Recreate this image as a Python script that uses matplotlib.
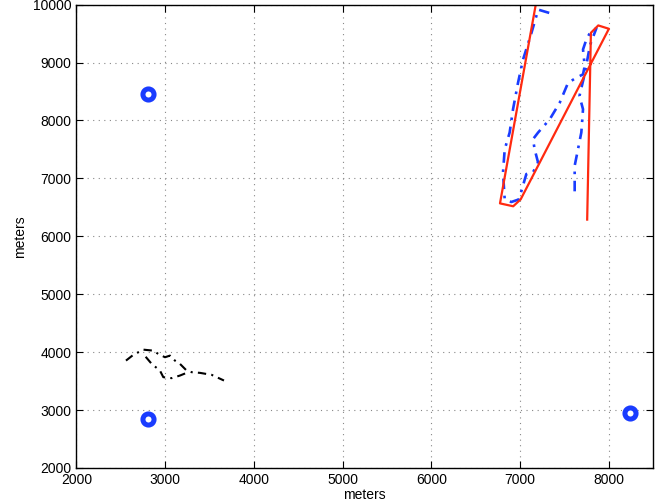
import matplotlib
matplotlib.use("Agg")
import matplotlib.pyplot as plt

plt.rcParams['font.family'] = ['Liberation Sans', 'DejaVu Sans']

# beacon positions (meters)
beacon_x = [2810, 2810, 8240]
beacon_y = [8450, 2850, 2950]

# red track
red_x = [7190, 6775, 6924, 7008, 8003, 7883, 7800, 7758]
red_y = [10100, 6568, 6518, 6637, 9582, 9640, 9513, 6288]

# blue dash-dot track
blue_x = [7330, 7206, 7129, 7034, 6978, 6922, 6884, 6828, 6809, 6828, 6903, 6989,
          7072, 7147, 7204, 7166, 7147, 7204, 7336, 7449, 7542, 7636, 7711, 7730,
          7711, 7749, 7798, 7862, 7790, 7730, 7671, 7711, 7692, 7654, 7617, 7617]
blue_y = [9856, 9913, 9507, 9047, 8648, 8193, 7792, 7499, 7103, 6637, 6592, 6637,
          7074, 7103, 7275, 7499, 7676, 7790, 8020, 8308, 8648, 8738, 8795, 8939,
          9225, 9398, 9535, 9593, 9300, 8800, 8422, 8193, 7792, 7499, 7217, 6672]

# black dash-dot track (two pieces)
black_x1 = [2558, 2640, 2753, 2866, 2922, 2998, 3054, 3110, 3167, 3242, 3299, 3393, 3524, 3663]
black_y1 = [3854, 3952, 4043, 4026, 3969, 3912, 3940, 3854, 3797, 3682, 3654, 3642, 3608, 3510]
black_x2 = [2780, 2848, 2941, 2979, 3073, 3167, 3260]
black_y2 = [3920, 3797, 3682, 3568, 3551, 3596, 3654]

fig = plt.figure(figsize=(6.57, 5.03), dpi=100)
ax = fig.add_axes([0.1164, 0.0696, 0.9939 - 0.1164, 0.9909 - 0.0696])

dashdot = (0, (4, 2.5, 1, 2.5))
ax.plot(blue_x, blue_y, color='#1a3cff', linestyle=dashdot, linewidth=1.9)
ax.plot(red_x, red_y, color='#ff2a10', linewidth=1.6)
ax.plot(black_x1, black_y1, color='black', linestyle=dashdot, linewidth=1.5)
ax.plot(black_x2, black_y2, color='black', linestyle=dashdot, linewidth=1.5)
ax.plot(beacon_x, beacon_y, linestyle='none', marker='o', markersize=8,
        markerfacecolor='white', markeredgecolor='#1a3cff', markeredgewidth=3.6)

ax.set_xlim(2000, 8500)
ax.set_ylim(2000, 10000)
ax.set_xticks(range(2000, 8001, 1000))
ax.set_yticks(range(2000, 10001, 1000))
ax.grid(True, linestyle=(0, (1, 4)), color='#888888', linewidth=0.8)
ax.tick_params(direction='in', top=True, right=True, labelsize=10, length=5)
for s in ax.spines.values():
    s.set_linewidth(1.0)

ax.set_xlabel('meters', fontsize=10, labelpad=1)
ax.set_ylabel('meters', fontsize=10, labelpad=4)

fig.savefig('out.png', dpi=100)
